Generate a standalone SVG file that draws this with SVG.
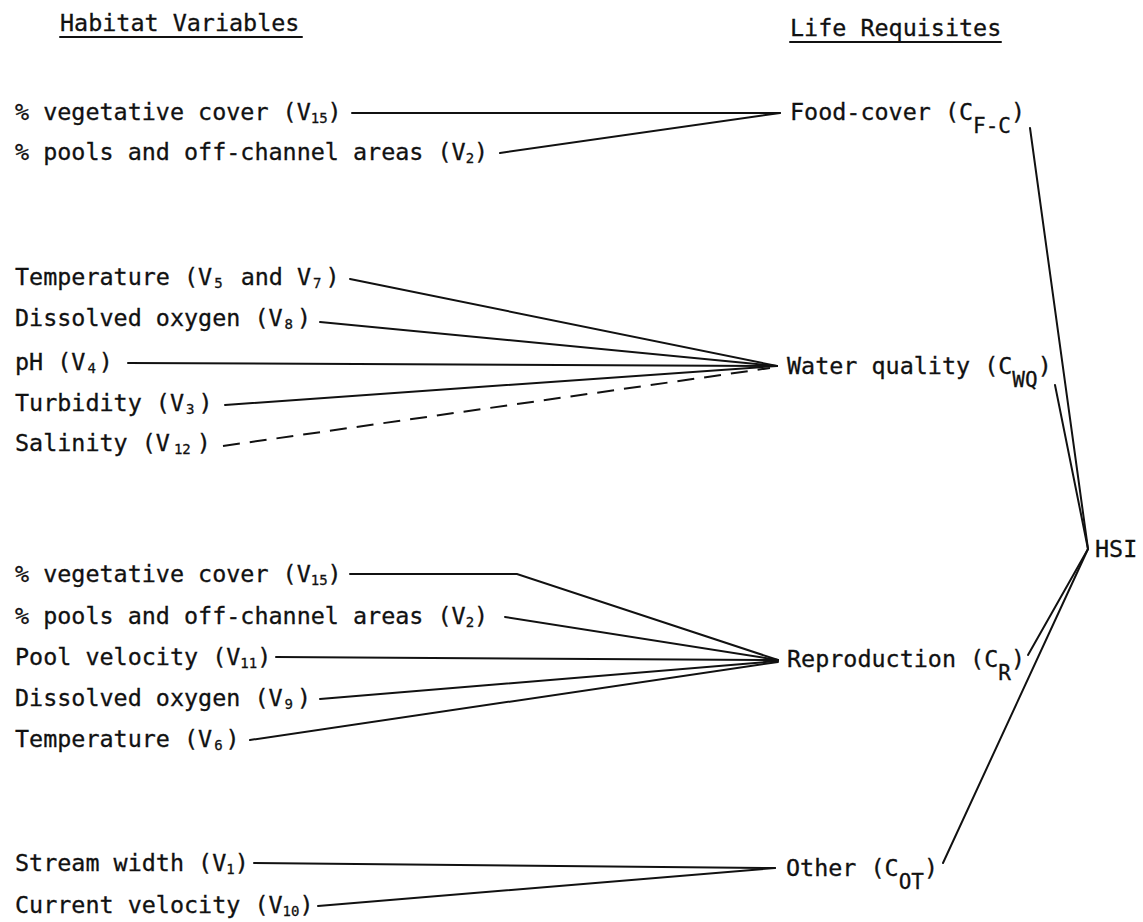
<svg xmlns="http://www.w3.org/2000/svg" width="1143" height="922" viewBox="0 0 1143 922">
<style>
.t{font-family:"DejaVu Sans Mono","Liberation Mono",monospace;font-size:23.4px;fill:#111;stroke:#111;stroke-width:0.3}
.vs{font-size:14px}
.cs{font-size:21px}
.c{stroke:#111;stroke-width:2;fill:none;stroke-linecap:round}
.d{stroke-dasharray:17 10;stroke-linecap:butt}
</style>
<rect width="1143" height="922" fill="#fff"/>
<g id="headers">
<text class="t" x="60" y="31">Habitat Variables</text>
<line class="c" x1="60" y1="37" x2="302" y2="37"/>
<text class="t" x="790" y="36">Life Requisites</text>
<line class="c" x1="790" y1="42" x2="1001" y2="42"/>
</g>
<g id="connectors">
<line class="c" x1="352" y1="113" x2="780" y2="113"/>
<line class="c" x1="500" y1="153" x2="780" y2="113"/>
<line class="c" x1="350" y1="279" x2="777" y2="366"/>
<line class="c" x1="320" y1="322" x2="777" y2="366"/>
<line class="c" x1="128" y1="363" x2="777" y2="366"/>
<line class="c" x1="225" y1="405" x2="777" y2="366"/>
<line class="c d" x1="223" y1="446" x2="770" y2="368"/>
<polyline class="c" points="350,574 517,574 778,660"/>
<line class="c" x1="505" y1="617" x2="778" y2="660"/>
<line class="c" x1="276" y1="657" x2="778" y2="660"/>
<line class="c" x1="320" y1="699" x2="778" y2="661"/>
<line class="c" x1="250" y1="740" x2="778" y2="662"/>
<line class="c" x1="254" y1="863" x2="775" y2="868"/>
<line class="c" x1="318" y1="906" x2="775" y2="868"/>
<line class="c" x1="1030" y1="128" x2="1088" y2="549"/>
<line class="c" x1="1055" y1="385" x2="1088" y2="549"/>
<line class="c" x1="1028" y1="655" x2="1088" y2="549"/>
<line class="c" x1="943" y1="863" x2="1088" y2="549"/>
</g>
<g id="v-fc-veg"><text class="t" x="15" y="120">% vegetative cover (V<tspan class="vs" dy="3">15</tspan><tspan dy="-3">)</tspan></text></g>
<g id="v-fc-pools"><text class="t" x="15" y="160">% pools and off-channel areas (V<tspan class="vs" dy="3">2</tspan><tspan dy="-3">)</tspan></text></g>
<g id="v-wq-temp"><text class="t" x="15" y="285">Temperature (V<tspan class="vs" dx="2" dy="3">5</tspan><tspan dx="4" dy="-3"> and V</tspan><tspan class="vs" dx="2" dy="3">7</tspan><tspan dx="4" dy="-3">)</tspan></text></g>
<g id="v-wq-do"><text class="t" x="15" y="326">Dissolved oxygen (V<tspan class="vs" dx="2" dy="3">8</tspan><tspan dx="4" dy="-3">)</tspan></text></g>
<g id="v-wq-ph"><text class="t" x="15" y="370">pH (V<tspan class="vs" dx="2" dy="3">4</tspan><tspan dx="3" dy="-3">)</tspan></text></g>
<g id="v-wq-turb"><text class="t" x="15" y="411">Turbidity (V<tspan class="vs" dx="2" dy="3">3</tspan><tspan dx="4" dy="-3">)</tspan></text></g>
<g id="v-wq-sal"><text class="t" x="15" y="451">Salinity (V<tspan class="vs" dx="4" dy="3">12</tspan><tspan dx="6" dy="-3">)</tspan></text></g>
<g id="v-r-veg"><text class="t" x="15" y="582">% vegetative cover (V<tspan class="vs" dy="3">15</tspan><tspan dy="-3">)</tspan></text></g>
<g id="v-r-pools"><text class="t" x="15" y="624">% pools and off-channel areas (V<tspan class="vs" dy="3">2</tspan><tspan dy="-3">)</tspan></text></g>
<g id="v-r-pv"><text class="t" x="15" y="665">Pool velocity (V<tspan class="vs" dy="3">11</tspan><tspan dy="-3">)</tspan></text></g>
<g id="v-r-do"><text class="t" x="15" y="706">Dissolved oxygen (V<tspan class="vs" dx="2" dy="3">9</tspan><tspan dx="4" dy="-3">)</tspan></text></g>
<g id="v-r-temp"><text class="t" x="15" y="747">Temperature (V<tspan class="vs" dx="2" dy="3">6</tspan><tspan dx="3" dy="-3">)</tspan></text></g>
<g id="v-ot-sw"><text class="t" x="15" y="871">Stream width (V<tspan class="vs" dy="3">1</tspan><tspan dy="-3">)</tspan></text></g>
<g id="v-ot-cv"><text class="t" x="15" y="913">Current velocity (V<tspan class="vs" dy="3">10</tspan><tspan dy="-3">)</tspan></text></g>
<g id="c-fc"><text class="t" x="790" y="120">Food-cover (C<tspan class="cs" dy="13">F-C</tspan><tspan dy="-13">)</tspan></text></g>
<g id="c-wq"><text class="t" x="787" y="374">Water quality (C<tspan class="cs" dy="13">WQ</tspan><tspan dy="-13">)</tspan></text></g>
<g id="c-r"><text class="t" x="787" y="667">Reproduction (C<tspan class="cs" dy="13">R</tspan><tspan dy="-13">)</tspan></text></g>
<g id="c-ot"><text class="t" x="786" y="876">Other (C<tspan class="cs" dy="13">OT</tspan><tspan dy="-13">)</tspan></text></g>
<g id="hsi"><text class="t" x="1095" y="557">HSI</text></g>
</svg>
